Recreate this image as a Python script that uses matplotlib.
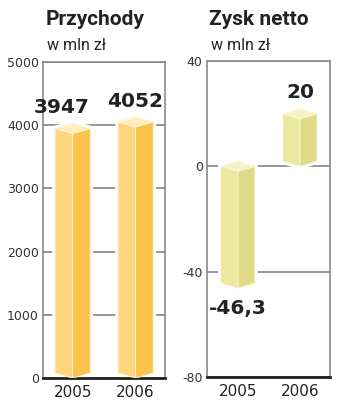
#!/usr/bin/env python3

import matplotlib
matplotlib.use("Agg")
import matplotlib.pyplot as plt
from matplotlib.patches import Polygon

years = ["2005", "2006"]
revenue = [3947, 4052]
revenue_labels = ["3947", "4052"]
profit = [-46.3, 20]
profit_labels = ["-46,3", "20"]

revenue_ticks = [0, 1000, 2000, 3000, 4000, 5000]
profit_ticks = [-80, -40, 0, 40]

ORANGE = ("#fdd680", "#fbc24c", "#feefbb")
LIME = ("#ebe9a0", "#dfdb86", "#f4f2c6")

plt.rcParams["font.family"] = ["DejaVu Sans"]


def draw_box(ax, x, lo, hi, w, d, colors):
    """Pseudo-3D column seen from a corner"""
    xl, xc, xr = x - w / 2, x, x + w / 2
    outline = [(xl, lo + d), (xc, lo), (xr, lo + d), (xr, hi), (xc, hi + d), (xl, hi)]
    ax.add_patch(Polygon(outline, closed=True, facecolor="white",
                         edgecolor="white", lw=4, zorder=2))
    left = [(xl, lo + d), (xc, lo), (xc, hi - d), (xl, hi)]
    right = [(xc, lo), (xr, lo + d), (xr, hi), (xc, hi - d)]
    top = [(xl, hi), (xc, hi - d), (xr, hi), (xc, hi + d)]
    for pts, c in zip((left, right, top), colors):
        ax.add_patch(Polygon(pts, closed=True, facecolor=c,
                             edgecolor="#fff6dc", lw=0.6, zorder=3))


def style_axes(ax, ticks, ylim, xlim):
    ax.set_xlim(*xlim)
    ax.set_ylim(*ylim)
    ax.set_yticks(ticks)
    ax.set_yticklabels([str(t) for t in ticks])
    ax.set_xticks(range(len(years)))
    ax.set_xticklabels(years)
    ax.tick_params(axis="y", length=0, pad=3, labelsize=9, labelcolor="#333333")
    ax.tick_params(axis="x", length=0, pad=5, labelsize=11, labelcolor="#222222")
    ax.yaxis.grid(True, color="#7a7a7a", lw=1.1)
    ax.set_axisbelow(True)
    for side in ("left", "right", "top"):
        ax.spines[side].set_color("#8a8a8a")
        ax.spines[side].set_linewidth(1.2)
    ax.spines["bottom"].set_color("#222222")
    ax.spines["bottom"].set_linewidth(2)


fig = plt.figure(figsize=(3.5, 4.07), dpi=100)
ax1 = fig.add_axes([0.123, 0.071, 0.349, 0.777])
ax2 = fig.add_axes([0.591, 0.074, 0.351, 0.776])

# Przychody
style_axes(ax1, revenue_ticks, (0, 5000), (-0.47, 1.47))
for i, v in enumerate(revenue):
    draw_box(ax1, i, 0, v, 0.56, 80, ORANGE)
for i, (v, lab) in enumerate(zip(revenue, revenue_labels)):
    dx = -8 if i == 0 else 0
    ax1.annotate(lab, (i, v), xytext=(dx, 11), textcoords="offset points",
                 ha="center", va="baseline", fontsize=14.5,
                 fontweight="bold", color="#222222", zorder=5,
                 annotation_clip=False)

# Zysk netto
style_axes(ax2, profit_ticks, (-80, 40), (-0.5, 1.48))
for i, v in enumerate(profit):
    draw_box(ax2, i, min(0, v), max(0, v), 0.55, 1.9, LIME)
for i, (v, lab) in enumerate(zip(profit, profit_labels)):
    if v >= 0:
        ax2.annotate(lab, (i, v), xytext=(0, 11), textcoords="offset points",
                     ha="center", va="baseline", fontsize=14.5,
                     fontweight="bold", color="#222222", zorder=5)
    else:
        ax2.annotate(lab, (i, v), xytext=(0, -8), textcoords="offset points",
                     ha="center", va="top", fontsize=14.5,
                     fontweight="bold", color="#222222", zorder=5)

# titles
fig.text(0.129, 0.938, "Przychody", fontsize=15, fontweight="bold",
         color="#222222", family="Roboto")
fig.text(0.134, 0.877, "w mln zł", fontsize=11.5, color="#222222", family="Roboto")
fig.text(0.598, 0.938, "Zysk netto", fontsize=15, fontweight="bold",
         color="#222222", family="Roboto")
fig.text(0.603, 0.877, "w mln zł", fontsize=11.5, color="#222222", family="Roboto")

plt.savefig("out.png", dpi=100)
